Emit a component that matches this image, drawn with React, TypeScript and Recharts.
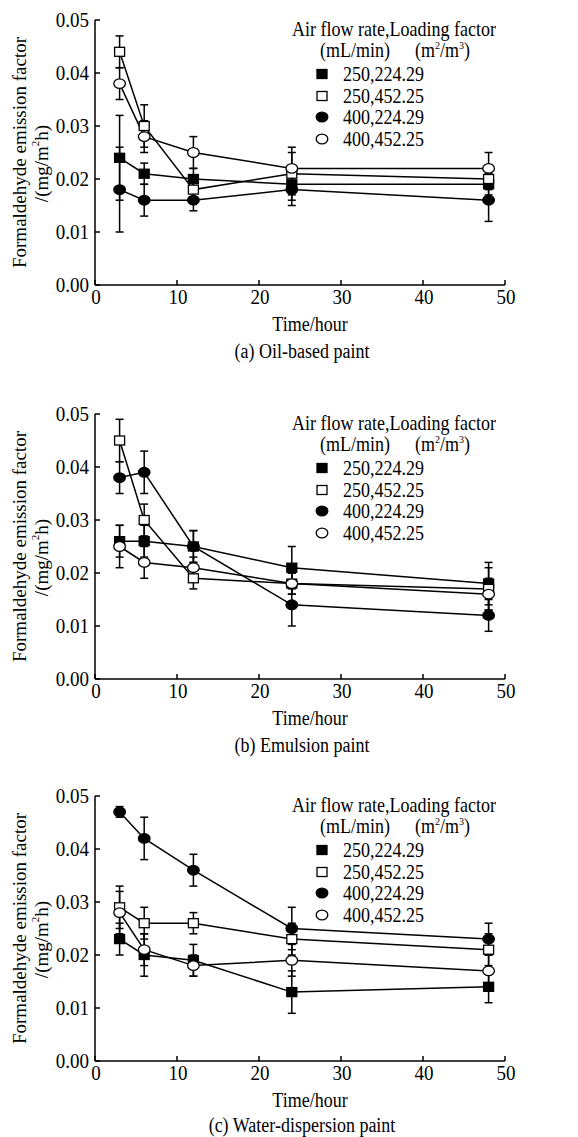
import React from "react";
import { LineChart, Line, XAxis, YAxis, ErrorBar } from "recharts";

const FONT = '"Liberation Serif", "Times New Roman", serif';

const hours = [3, 6, 12, 24, 48];
const xTicks = [0, 10, 20, 30, 40, 50];
const yTicks = [0, 0.01, 0.02, 0.03, 0.04, 0.05];
const seriesLabels = ["250,224.29", "250,452.25", "400,224.29", "400,452.25"];
const seriesMarkers = ["filledSquare", "openSquare", "filledCircle", "openCircle"];
const panelCaptions = ["(a) Oil-based paint", "(b) Emulsion paint", "(c) Water-dispersion paint"];

// (a) oil-based paint
const oil250x224 = [0.024, 0.021, 0.020, 0.019, 0.019];
const oil250x224Err = [0.008, 0.002, 0.002, 0.003, 0.002];
const oil250x452 = [0.044, 0.030, 0.018, 0.021, 0.020];
const oil250x452Err = [0.003, 0.004, 0.002, 0.004, 0.002];
const oil400x224 = [0.018, 0.016, 0.016, 0.018, 0.016];
const oil400x224Err = [0.008, 0.003, 0.002, 0.003, 0.004];
const oil400x452 = [0.038, 0.028, 0.025, 0.022, 0.022];
const oil400x452Err = [0.003, 0.003, 0.003, 0.004, 0.003];

// (b) emulsion paint
const emu250x224 = [0.026, 0.026, 0.025, 0.021, 0.018];
const emu250x224Err = [0.003, 0.003, 0.003, 0.004, 0.004];
const emu250x452 = [0.045, 0.030, 0.019, 0.018, 0.017];
const emu250x452Err = [0.004, 0.003, 0.002, 0.002, 0.004];
const emu400x224 = [0.038, 0.039, 0.025, 0.014, 0.012];
const emu400x224Err = [0.003, 0.004, 0.003, 0.004, 0.003];
const emu400x452 = [0.025, 0.022, 0.021, 0.018, 0.016];
const emu400x452Err = [0.004, 0.003, 0.002, 0.002, 0.003];

// (c) water-dispersion paint
const wat250x224 = [0.023, 0.020, 0.019, 0.013, 0.014];
const wat250x224Err = [0.003, 0.004, 0.003, 0.004, 0.003];
const wat250x452 = [0.029, 0.026, 0.026, 0.023, 0.021];
const wat250x452Err = [0.004, 0.003, 0.002, 0.003, 0.003];
const wat400x224 = [0.047, 0.042, 0.036, 0.025, 0.023];
const wat400x224Err = [0.001, 0.004, 0.003, 0.004, 0.003];
const wat400x452 = [0.028, 0.021, 0.018, 0.019, 0.017];
const wat400x452Err = [0.004, 0.003, 0.002, 0.003, 0.003];

function Marker({ kind, cx, cy }: { kind: string; cx: number; cy: number }) {
  const fill = kind.startsWith("filled") ? "#000" : "#fff";
  if (kind.endsWith("Square")) {
    return <rect x={cx - 5} y={cy - 4.5} width={10} height={9} fill={fill} stroke="#000" strokeWidth={1.3} />;
  }
  return <ellipse cx={cx} cy={cy} rx={5.8} ry={4.8} fill={fill} stroke="#000" strokeWidth={1.3} />;
}

// text slightly stretched vertically, like the scanned figure
function Txt({ x, y, size, anchor = "middle", sy = 1.15, children }: any) {
  return (
    <g transform={`translate(${x},${y}) scale(1,${sy})`}>
      <text x={0} y={0} textAnchor={anchor} dominantBaseline="central" fontFamily={FONT} fontSize={size} fill="#000">
        {children}
      </text>
    </g>
  );
}

const YTick = (props: any) => {
  const { x, y, payload } = props;
  return (
    <g>
      <line x1={x + 6} x2={x + 11} y1={y} y2={y} stroke="#000" strokeWidth={1.5} />
      <Txt x={x} y={y} size={19} anchor="end" sy={1.05}>
        {Number(payload.value).toFixed(2)}
      </Txt>
    </g>
  );
};

const XTick = (props: any) => {
  const { x, y, payload } = props;
  return (
    <g>
      <line x1={x} x2={x} y1={y - 6} y2={y - 11} stroke="#000" strokeWidth={1.5} />
      <Txt x={x + 1} y={y + 6} size={19} sy={1.05}>
        {payload.value}
      </Txt>
    </g>
  );
};

const YLabel = (props: any) => {
  const vb = props.viewBox;
  const cy = vb.y + vb.height / 2;
  return (
    <g fontFamily={FONT} fontSize={19} fill="#000">
      <text transform={`translate(19,${cy}) rotate(-90)`} textAnchor="middle" dominantBaseline="central">
        Formaldehyde emission factor
      </text>
      <text transform={`translate(41,${cy + 11}) rotate(-90)`} textAnchor="middle" dominantBaseline="central">
        <tspan>/(mg/m</tspan>
        <tspan dy={-6} fontSize={11}>2</tspan>
        <tspan dy={6}>h)</tspan>
      </text>
    </g>
  );
};

const makeXLabel = (caption: string, timeShift: number, captionShift: number) => (props: any) => {
  const vb = props.viewBox;
  const cx = vb.x + vb.width / 2;
  return (
    <g>
      <Txt x={cx + 10} y={vb.y + 38 + timeShift} size={18} sy={1.2}>
        Time/hour
      </Txt>
      <Txt x={cx + 2} y={vb.y + 65 + captionShift} size={18} sy={1.2}>
        {caption}
      </Txt>
    </g>
  );
};

function LegendBox() {
  const rowY = [54, 76, 97, 119];
  const line = (top: number) => ({
    position: "absolute" as const,
    top: top - 11,
    lineHeight: "22px",
    whiteSpace: "nowrap" as const,
    transform: "scaleY(1.12)",
  });
  const sup = { fontSize: 10, position: "relative" as const, top: -7, lineHeight: 0 };
  return (
    <div style={{ position: "absolute", left: 0, top: 20, fontFamily: FONT, fontSize: 18, color: "#000" }}>
      <div style={{ ...line(9), left: 292 }}>Air flow rate,Loading factor</div>
      <div style={{ ...line(30), left: 320 }}>(mL/min)</div>
      <div style={{ ...line(30), left: 415 }}>
        (m<span style={sup}>2</span>/m<span style={sup}>3</span>)
      </div>
      {seriesLabels.map((label, i) => (
        <React.Fragment key={label}>
          <svg style={{ position: "absolute", left: 314, top: rowY[i] - 8 }} width={16} height={16}>
            <Marker kind={seriesMarkers[i]} cx={8} cy={8} />
          </svg>
          <div style={{ ...line(rowY[i]), left: 343 }}>{label}</div>
        </React.Fragment>
      ))}
    </div>
  );
}

function Panel({
  top,
  caption,
  values,
  errors,
  timeShift = 0,
  captionShift = 0,
}: {
  top: number;
  caption: string;
  values: number[][];
  errors: number[][];
  timeShift?: number;
  captionShift?: number;
}) {
  const data = hours.map((h, i) => {
    const row: Record<string, number> = { hour: h };
    values.forEach((v, k) => {
      row[`s${k}`] = v[i];
      row[`e${k}`] = errors[k][i];
    });
    return row;
  });
  return (
    <div style={{ position: "absolute", left: 0, top, width: 578, height: 380 }}>
      <LineChart width={578} height={380} data={data} margin={{ top: 20, right: 73, left: 0, bottom: 65 }}>
        <XAxis
          dataKey="hour"
          type="number"
          domain={[0, 50]}
          ticks={xTicks}
          interval={0}
          height={30}
          tickSize={0}
          tickMargin={6}
          tickLine={false}
          tick={<XTick />}
          axisLine={{ stroke: "#000", strokeWidth: 1.5 }}
          label={makeXLabel(caption, timeShift, captionShift)}
        />
        <YAxis
          type="number"
          domain={[0, 0.05]}
          ticks={yTicks}
          interval={0}
          width={95}
          tickSize={0}
          tickMargin={6}
          tickLine={false}
          tick={<YTick />}
          axisLine={{ stroke: "#000", strokeWidth: 1.5 }}
          label={YLabel}
        />
        {seriesMarkers.map((kind, k) => (
          <Line
            key={kind}
            dataKey={`s${k}`}
            stroke="#000"
            strokeWidth={1.5}
            isAnimationActive={false}
            dot={(p: any) => <Marker key={`${kind}-${p.index}`} kind={kind} cx={p.cx} cy={p.cy} />}
            activeDot={false}
          >
            <ErrorBar dataKey={`e${k}`} width={4} stroke="#000" strokeWidth={1.5} direction="y" />
          </Line>
        ))}
      </LineChart>
      <LegendBox />
    </div>
  );
}

export default function App() {
  return (
    <div style={{ position: "absolute", left: 0, top: 0, width: 578, height: 1137, background: "#fff", overflow: "hidden" }}>
      <Panel
        top={0}
        caption={panelCaptions[0]}
        values={[oil250x224, oil250x452, oil400x224, oil400x452]}
        errors={[oil250x224Err, oil250x452Err, oil400x224Err, oil400x452Err]}
      />
      <Panel
        top={394}
        caption={panelCaptions[1]}
        values={[emu250x224, emu250x452, emu400x224, emu400x452]}
        errors={[emu250x224Err, emu250x452Err, emu400x224Err, emu400x452Err]}
      />
      <Panel
        top={776}
        caption={panelCaptions[2]}
        values={[wat250x224, wat250x452, wat400x224, wat400x452]}
        errors={[wat250x224Err, wat250x452Err, wat400x224Err, wat400x452Err]}
        timeShift={0}
        captionShift={-2}
      />
    </div>
  );
}
